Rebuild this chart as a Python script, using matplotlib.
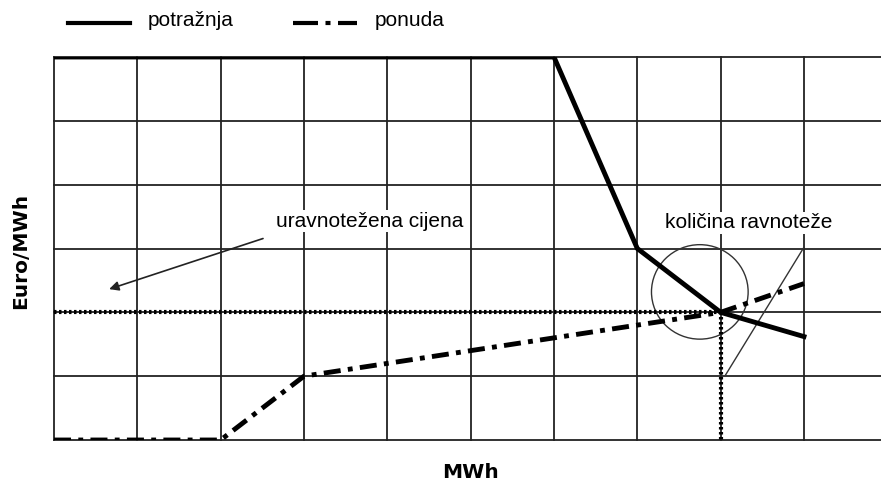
#!/usr/bin/env python3
"""Ravnoteža ponude i potražnje na tržištu električne energije."""
import matplotlib
matplotlib.use("Agg")
import matplotlib.pyplot as plt
from matplotlib.lines import Line2D
from matplotlib.patches import Ellipse

# krivulja potražnje (MWh, Euro/MWh) - u jedinicama mreže
demand_x = [0, 6, 7, 8, 9]
demand_y = [6, 6, 3, 2, 1.62]

# krivulja ponude
supply_x = [0, 2, 3, 8, 9]
supply_y = [0, 0, 1, 2, 2.45]

# ravnotežna točka
eq_x = 8
eq_y = 2

DASHDOT = (0, (3.5, 1.5, 1, 1.5))

plt.rcParams["font.family"] = ["Liberation Sans", "DejaVu Sans"]

fig = plt.figure(figsize=(8.81, 4.84), dpi=100)
ax = fig.add_axes([54 / 881, 1 - 440 / 484, 1 - 54 / 881, (440 - 57) / 484])
ax.set_xlim(0, 827 / 83.33)
ax.set_ylim(0, 6)
for s in ax.spines.values():
    s.set_visible(False)
ax.set_xticks([])
ax.set_yticks([])

# mreža
for gx in range(0, 10):
    ax.axvline(gx, color="#222222", lw=1.3, zorder=1, clip_on=False)
for gy in range(0, 7):
    ax.axhline(gy, color="#222222", lw=1.3, zorder=1, clip_on=False)

# ravnotežna cijena i količina
ax.plot([0, eq_x], [eq_y, eq_y], color="black", lw=3, ls=(0, (0.6, 0.6)), zorder=3)
ax.plot([eq_x, eq_x], [eq_y, 0], color="black", lw=3, ls=(0, (0.6, 0.6)), zorder=3)

ax.plot(demand_x, demand_y, color="black", lw=3.5, zorder=4, solid_joinstyle="miter")
ax.plot(supply_x, supply_y, color="black", lw=3.5, ls=DASHDOT, zorder=4)

# krug oko ravnoteže i pomoćna linija
ax.add_patch(Ellipse((7.75, 2.32), 1.16, 1.48, fill=False, color="#333333", lw=1, zorder=2))
ax.plot([9, 8.05], [3.02, 1.0], color="#333333", lw=1, zorder=2)

ax.annotate("", xy=(0.63, 2.35), xytext=(2.54, 3.17),
            arrowprops=dict(arrowstyle="-|>", color="#222222", lw=1.2, mutation_scale=14))
ax.text(2.66, 3.43, "uravnotežena cijena", fontsize=15, va="center", ha="left",
        bbox=dict(facecolor="white", edgecolor="none", pad=1))
ax.text(7.33, 3.4, "količina ravnoteže", fontsize=15, va="center", ha="left",
        bbox=dict(facecolor="white", edgecolor="none", pad=1))

# legenda
fig.add_artist(Line2D([68 / 881, 130 / 881], [1 - 23 / 484] * 2, color="black", lw=3))
fig.text(148 / 881, 1 - 20 / 484, "potražnja", fontsize=15, va="center")
fig.add_artist(Line2D([293 / 881, 357 / 881], [1 - 23 / 484] * 2, color="black", lw=3,
                      ls=(0, (6, 1.8, 1.2, 1.8))))
fig.text(375 / 881, 1 - 20 / 484, "ponuda", fontsize=15, va="center")

fig.text(21 / 881, 1 - 251 / 484, "Euro/MWh", rotation=90, fontsize=14.5, fontweight="bold",
         va="center", ha="center", family=["DejaVu Sans"])
fig.text(470 / 881, 1 - 472 / 484, "MWh", fontsize=14.5, fontweight="bold",
         va="center", ha="center", family=["DejaVu Sans"])

fig.savefig("out.png", dpi=100)
